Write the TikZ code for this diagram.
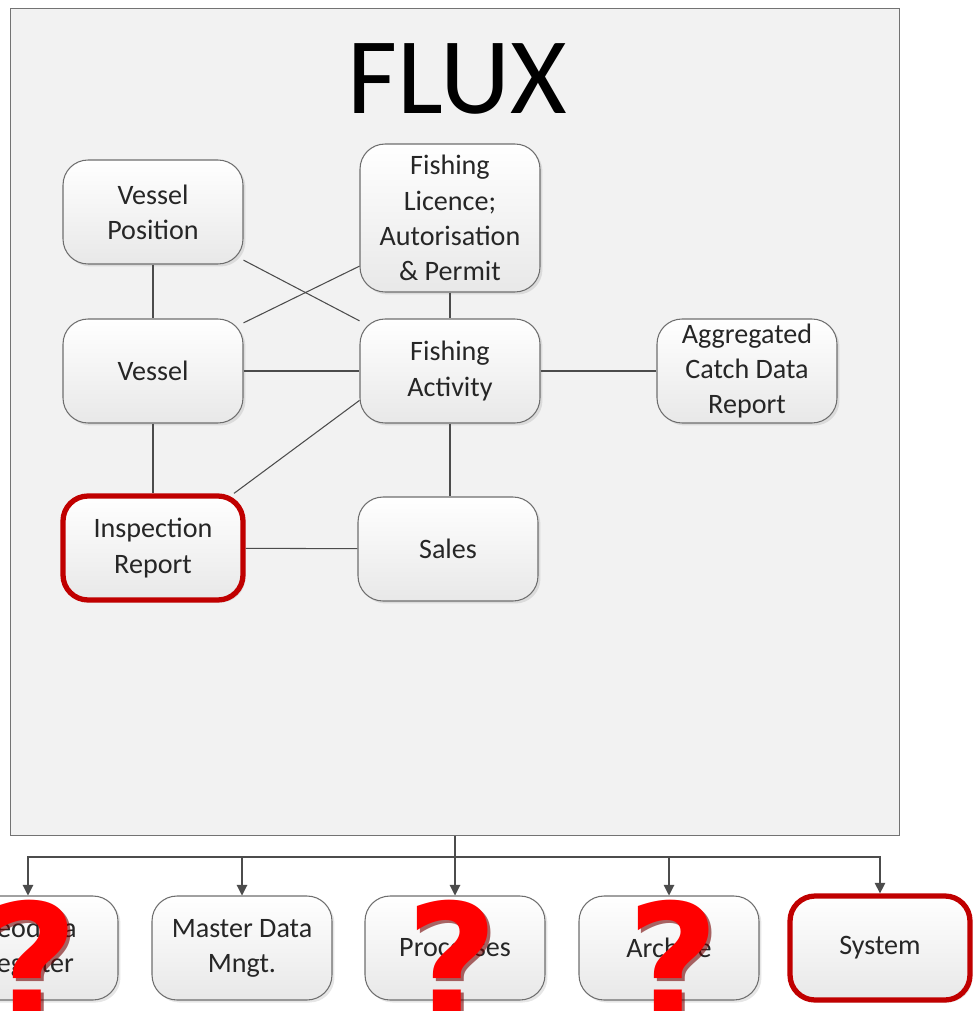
\documentclass[tikz,border=0pt]{standalone}
\usepackage{fontspec}
\setmainfont{Carlito}
\newfontfamily\qfont{DejaVu Sans}
\usetikzlibrary{arrows.meta,shadows}
\definecolor{boxline}{RGB}{110,110,110}
\definecolor{hilite}{RGB}{192,0,0}
\definecolor{qred}{RGB}{255,0,0}
\tikzset{
  entity/.style={rounded corners=0.5cm, draw=boxline, line width=0.6pt,
    top color=white, bottom color=black!9, align=center, inner sep=2pt,
    minimum width=3.6cm, minimum height=2.08cm, text=black!85,
    font=\fontsize{16}{20}\selectfont,
    drop shadow={opacity=0.2, shadow xshift=0.05cm, shadow yshift=-0.05cm}},
  marked/.style={entity, draw=hilite, line width=3pt},
  link/.style={draw=black!70, line width=0.6pt},
  feed/.style={link, -{Triangle[length=6pt,width=6pt]}},
  query/.style={font=\qfont\bfseries\fontsize{90}{90}\selectfont, text=qred, inner sep=0pt}
}
\begin{document}
\begin{tikzpicture}[x=0.02cm,y=-0.02cm]
\useasboundingbox (0,0) rectangle (973,1011);
\node[draw=black!55, fill=black!5, line width=0.6pt, minimum width=17.8cm, minimum height=16.56cm] (flux) at (455,422) {};
\node (title) at (457,79) {\fontsize{62}{62}\selectfont FLUX};

\node[entity] (vpos) at (153,212) {Vessel\\Position};
\node[entity, minimum height=2.96cm] (lic) at (450,218) {Fishing\\Licence;\\Autorisation\\\& Permit};
\node[entity] (vessel) at (153,371) {Vessel};
\node[entity] (act) at (450,371) {Fishing\\Activity};
\node[entity] (agg) at (747,371) {Aggregated\\Catch Data\\Report};
\node[marked] (insp) at (153,548) {Inspection\\Report};
\node[entity] (sales) at (448,549) {Sales};

\node[entity] (geo) at (28,948) {Geodata\\Register};
\node[entity] (mdm) at (242,948) {Master Data\\Mngt.};
\node[entity] (proc) at (455,948) {Processes};
\node[entity] (arch) at (669,948) {Archive};
\node[marked] (sys) at (880,948) {System};

\draw[link] (vpos) -- (vessel); \draw[link] (vpos.-28) -- (act.151); \draw[link] (vessel.28) -- (lic.-152);
\draw[link] (lic) -- (act); \draw[link] (vessel) -- (act); \draw[link] (act) -- (agg);
\draw[link] (vessel) -- (insp); \draw[link] (insp.34) -- (act.-162); \draw[link] (act.south) -- (sales.north -| act.south); \draw[link] (insp) -- (sales);

\coordinate (split) at (455,857);
\draw[link] (flux.south) -- (split);
\draw[feed] (split) -| (geo.north); \draw[feed] (split) -| (mdm.north); \draw[feed] (split) -- (proc.north);
\draw[feed] (split) -| (arch.north); \draw[feed] (split) -| (sys.north);

\foreach \qx/\qn in {32/qa,452/qb,673/qc}{
  \node[query, text=black!55!red, opacity=0.6] at (\qx+3,962) {?};
  \node[query] (\qn) at (\qx,959) {?};
}
\end{tikzpicture}
\end{document}
